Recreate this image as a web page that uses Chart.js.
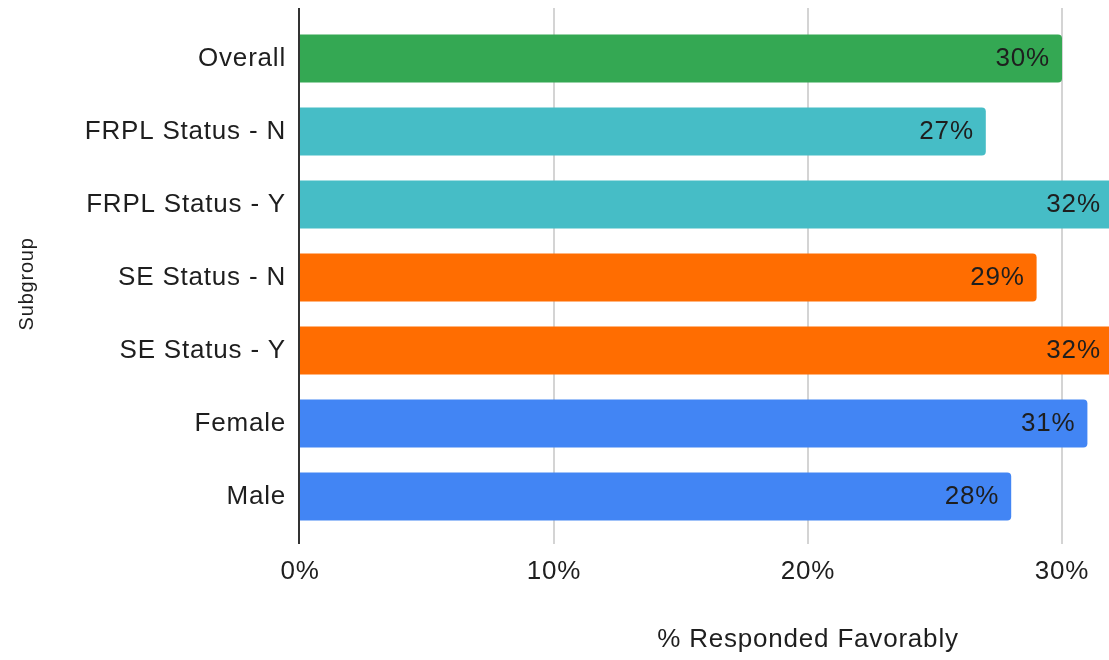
<!DOCTYPE html>
<html>
<head>
<meta charset="utf-8">
<script src="https://cdn.jsdelivr.net/npm/chart.js@4"></script>
<style>
  html, body { margin: 0; padding: 0; background: #fff; overflow: hidden; }
  #wrap { width: 1330px; height: 660px; }
</style>
</head>
<body>
<div id="wrap"><canvas id="favChart" width="1330" height="660"></canvas></div>
<script>
const subgroups = ['Overall', 'FRPL Status - N', 'FRPL Status - Y', 'SE Status - N', 'SE Status - Y', 'Female', 'Male'];
const favorable = [30, 27, 32, 29, 32, 31, 28];

const barColors = ['#34a853', '#46bdc6', '#46bdc6', '#ff6d01', '#ff6d01', '#4285f4', '#4285f4'];
const FONT = '"Liberation Sans", Arial, sans-serif';
const TEXT = '#1e1e1e';

// grid lines and the zero axis run a bit past the bars; value labels sit inside the bar ends
const barExtras = {
  id: 'barExtras',
  beforeDraw(chart) {
    chart.ctx.letterSpacing = '0.8px';
  },
  beforeDatasetsDraw(chart) {
    const { ctx, chartArea, scales: { x } } = chart;
    ctx.save();
    ctx.strokeStyle = '#d4d4d4';
    ctx.lineWidth = 2;
    x.ticks.forEach(t => {
      if (t.value === 0) return;
      const px = Math.round(x.getPixelForValue(t.value));
      ctx.beginPath();
      ctx.moveTo(px, chartArea.top - 14);
      ctx.lineTo(px, chartArea.bottom + 11);
      ctx.stroke();
    });
    ctx.restore();
  },
  afterDatasetsDraw(chart) {
    const { ctx, chartArea, scales: { x } } = chart;
    ctx.save();
    const x0 = x.getPixelForValue(0);
    ctx.fillStyle = '#333333';
    ctx.fillRect(x0 - 2, chartArea.top - 14, 2, chartArea.bottom - chartArea.top + 25);

    ctx.font = '26px ' + FONT;
    ctx.fillStyle = TEXT;
    ctx.textAlign = 'right';
    ctx.textBaseline = 'middle';
    chart.getDatasetMeta(0).data.forEach((bar, i) => {
      ctx.fillText(favorable[i] + '%', bar.x - 12, bar.y);
    });
    ctx.restore();
  }
};

new Chart(document.getElementById('favChart'), {
  type: 'bar',
  data: {
    labels: subgroups,
    datasets: [{
      data: favorable,
      backgroundColor: barColors,
      barPercentage: 0.657,
      categoryPercentage: 1,
      borderRadius: 4,
      borderSkipped: 'start'
    }]
  },
  options: {
    indexAxis: 'y',
    responsive: false,
    animation: false,
    layout: { padding: { top: 22, right: 14, bottom: 0, left: 0 } },
    plugins: {
      legend: { display: false },
      tooltip: { enabled: false }
    },
    scales: {
      x: {
        type: 'linear',
        min: 0,
        max: 40,
        grid: { display: false, drawTicks: false },
        border: { display: false },
        ticks: {
          stepSize: 10,
          padding: 23,
          color: TEXT,
          font: { family: FONT, size: 26 },
          callback: v => v + '%'
        },
        title: {
          display: true,
          text: '% Responded Favorably',
          color: TEXT,
          font: { family: FONT, size: 26 },
          padding: { top: 0, bottom: 5 }
        },
        afterFit(scale) {
          scale.height = 127;
          scale.paddingLeft = 0;
          scale.paddingRight = 0;
        }
      },
      y: {
        grid: { display: false, drawTicks: false },
        border: { display: false },
        ticks: {
          padding: 14,
          color: TEXT,
          font: { family: FONT, size: 26 }
        },
        title: {
          display: true,
          // trailing spaces nudge the rotated title a little lower
          text: 'Subgroup  ',
          color: TEXT,
          font: { family: FONT, size: 20 },
          padding: { top: 15, bottom: 0 }
        },
        afterFit(scale) {
          scale.width = 300;
          scale.paddingTop = 0;
          scale.paddingBottom = 0;
        }
      }
    }
  },
  plugins: [barExtras]
});
</script>
</body>
</html>
